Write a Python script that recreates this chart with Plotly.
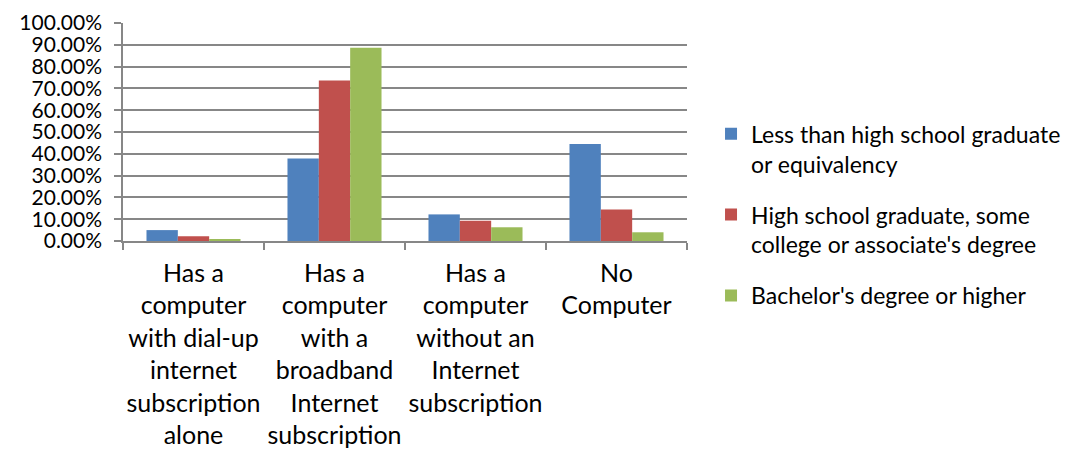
import plotly.graph_objects as go

categories = [
    "Has a<br>computer<br>with dial-up<br>internet<br>subscription<br>alone",
    "Has a<br>computer<br>with a<br>broadband<br>Internet<br>subscription",
    "Has a<br>computer<br>without an<br>Internet<br>subscription",
    "No<br>Computer",
]
less_than_hs = [0.050, 0.379, 0.122, 0.445]
hs_some_college = [0.022, 0.736, 0.093, 0.145]
bachelors_plus = [0.006, 0.886, 0.063, 0.040]

series_names = [
    "Less than high school graduate<br>or equivalency",
    "High school graduate, some<br>college or associate's degree",
    "Bachelor's degree or higher",
]
series_values = [less_than_hs, hs_some_college, bachelors_plus]
series_colors = ["#4F81BD", "#C0504D", "#9BBB59"]

FONT = "Lato"
GRID = "#878787"

fig = go.Figure()
for i, (name, vals, col) in enumerate(zip(series_names, series_values, series_colors)):
    fig.add_trace(go.Bar(
        x=categories, y=vals, name=name,
        marker=dict(color=col, line=dict(width=0)),
        legendgroup=f"g{i}",
    ))

fig.update_layout(
    width=1087, height=449,
    margin=dict(l=123, r=400, t=23, b=208),
    paper_bgcolor="white", plot_bgcolor="white",
    barmode="group", bargap=0.333, bargroupgap=0,
    font=dict(family=FONT, size=23, color="#000000"),
    legend=dict(
        x=1.0426, xanchor="left", y=0.12, yanchor="middle",
        font=dict(family=FONT, size=23, color="#000000"),
        valign="top", tracegroupgap=18, itemwidth=30,
        bgcolor="rgba(0,0,0,0)",
    ),
    showlegend=True,
)
fig.update_yaxes(
    range=[0, 1], dtick=0.1, tickformat=".2%",
    showgrid=True, gridcolor=GRID, gridwidth=1.5,
    showline=True, linecolor=GRID, linewidth=1.5,
    ticks="outside", ticklen=7, tickcolor=GRID, tickwidth=1.5,
    ticklabelstandoff=8, automargin=False,
    tickfont=dict(family=FONT, size=21, color="#000000"),
    zeroline=False,
)
fig.update_xaxes(
    showline=True, linecolor=GRID, linewidth=1.5,
    ticks="outside", ticklen=7, tickcolor=GRID, tickwidth=1.5,
    tickson="boundaries", ticklabelstandoff=9, automargin=False,
    tickangle=0,
    tickfont=dict(family=FONT, size=25, color="#000000"),
    showgrid=False,
)

fig.write_html("out.html")
